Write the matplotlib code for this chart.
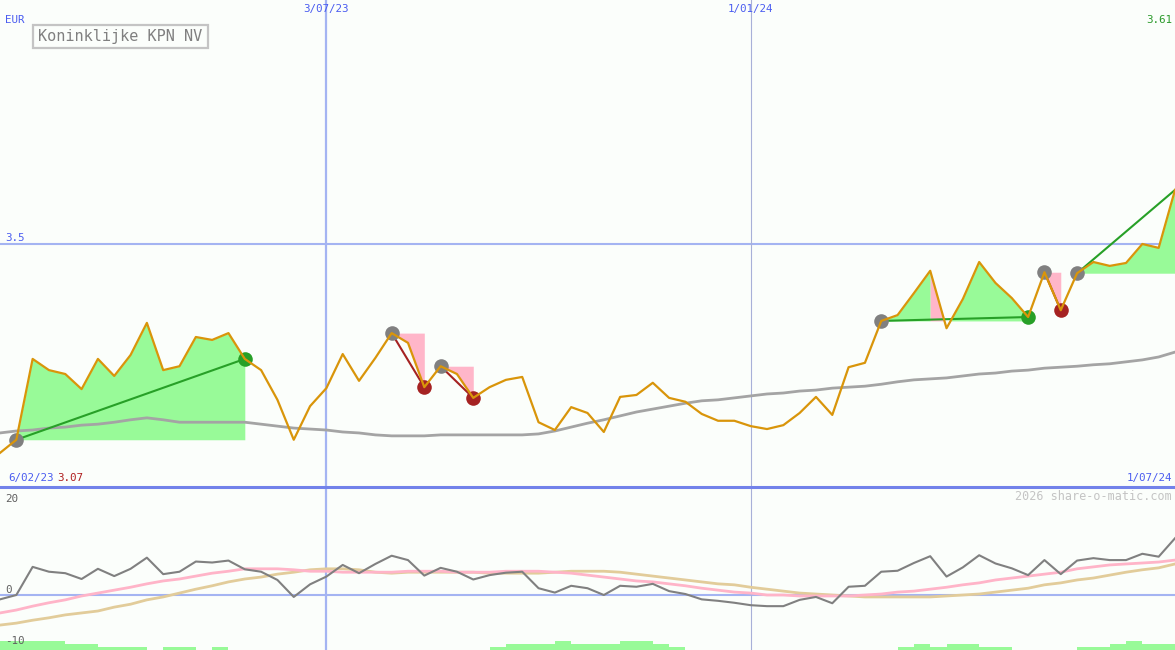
import matplotlib
matplotlib.use("Agg")
import matplotlib.pyplot as plt
from matplotlib.patches import Rectangle
from matplotlib.lines import Line2D
import numpy as np

# ---------------- data ----------------
title = "Koninklijke KPN NV"
currency = "EUR"
first_date, last_date = "6/02/23", "1/07/24"
first_price_lbl, last_price_lbl = "3.07", "3.61"
vline_idx = [20, 46]
vline_lbl = ["3/07/23", "1/01/24"]
price_grid = 3.5

price = [3.070, 3.097, 3.263, 3.240, 3.232, 3.201, 3.263, 3.228, 3.271, 3.337,
         3.240, 3.248, 3.308, 3.302, 3.316, 3.263, 3.240, 3.179, 3.097, 3.166,
         3.203, 3.273, 3.218, 3.265, 3.316, 3.296, 3.205, 3.248, 3.232, 3.183,
         3.205, 3.220, 3.226, 3.133, 3.117, 3.164, 3.152, 3.113, 3.185, 3.189,
         3.214, 3.183, 3.175, 3.150, 3.136, 3.136, 3.125, 3.119, 3.127, 3.152,
         3.185, 3.148, 3.246, 3.255, 3.341, 3.353, 3.398, 3.444, 3.326, 3.386,
         3.462, 3.419, 3.388, 3.349, 3.441, 3.363, 3.439, 3.462, 3.454, 3.460,
         3.499, 3.491, 3.610]

ma_long = [3.111, 3.115, 3.117, 3.121, 3.123, 3.127, 3.129, 3.133, 3.138, 3.142,
           3.138, 3.133, 3.133, 3.133, 3.133, 3.133, 3.129, 3.125, 3.121, 3.119,
           3.117, 3.113, 3.111, 3.107, 3.105, 3.105, 3.105, 3.107, 3.107, 3.107,
           3.107, 3.107, 3.107, 3.109, 3.115, 3.123, 3.131, 3.138, 3.146, 3.154,
           3.160, 3.166, 3.172, 3.177, 3.179, 3.183, 3.187, 3.191, 3.193, 3.197,
           3.199, 3.203, 3.205, 3.207, 3.211, 3.216, 3.220, 3.222, 3.224, 3.228,
           3.232, 3.234, 3.238, 3.240, 3.244, 3.246, 3.248, 3.251, 3.253, 3.257,
           3.261, 3.267, 3.277]

# trend segments: start index, end index, direction
seg_start = [1, 24, 27, 54, 64, 66]
seg_end = [15, 26, 29, 63, 65, 72]
seg_dir = ["up", "down", "down", "up", "down", "up"]

osc = [-0.9, 0.0, 5.8, 4.8, 4.5, 3.3, 5.4, 3.9, 5.4, 7.7,
       4.3, 4.8, 6.9, 6.7, 7.1, 5.3, 4.8, 3.1, -0.4, 2.2,
       3.8, 6.2, 4.5, 6.4, 8.1, 7.2, 4.0, 5.6, 4.8, 3.2,
       4.1, 4.6, 4.8, 1.4, 0.5, 1.9, 1.4, 0.0, 1.9, 1.7,
       2.3, 0.8, 0.2, -0.9, -1.2, -1.6, -2.1, -2.3, -2.3, -1.0,
       -0.4, -1.7, 1.7, 1.9, 4.8, 5.0, 6.6, 8.0, 3.8, 5.7,
       8.2, 6.5, 5.5, 4.1, 7.2, 4.3, 7.1, 7.6, 7.2, 7.2,
       8.5, 7.9, 11.7]

osc_pink = [-3.7, -3.1, -2.3, -1.6, -1.0, -0.2, 0.4, 1.0, 1.6, 2.3,
            2.9, 3.3, 3.9, 4.5, 4.9, 5.4, 5.4, 5.4, 5.2, 4.9,
            4.9, 4.7, 4.7, 4.7, 4.7, 4.9, 4.9, 4.9, 4.7, 4.7,
            4.7, 4.9, 4.9, 4.9, 4.7, 4.5, 4.1, 3.7, 3.3, 2.9,
            2.7, 2.3, 1.9, 1.4, 1.0, 0.6, 0.4, 0.0, 0.0, -0.2,
            -0.2, -0.2, -0.2, 0.0, 0.2, 0.6, 0.8, 1.2, 1.6, 2.1,
            2.5, 3.1, 3.5, 3.9, 4.3, 4.7, 5.4, 5.8, 6.2, 6.4,
            6.6, 6.8, 7.2]

osc_tan = [-6.2, -5.8, -5.2, -4.7, -4.1, -3.7, -3.3, -2.5, -1.9, -1.0,
           -0.4, 0.4, 1.2, 1.9, 2.7, 3.3, 3.7, 4.3, 4.7, 5.2,
           5.4, 5.4, 5.2, 4.7, 4.5, 4.7, 4.7, 4.7, 4.7, 4.7,
           4.5, 4.5, 4.5, 4.5, 4.7, 4.9, 4.9, 4.9, 4.7, 4.3,
           3.9, 3.5, 3.1, 2.7, 2.3, 2.1, 1.6, 1.2, 0.8, 0.4,
           0.2, 0.0, -0.2, -0.4, -0.4, -0.4, -0.4, -0.4, -0.2, 0.0,
           0.2, 0.6, 1.0, 1.4, 2.1, 2.5, 3.1, 3.5, 4.1, 4.7,
           5.2, 5.6, 6.4]

bars = [3, 3, 3, 3, 2, 2, 1, 1, 1, 0, 1, 1, 0, 1,
        0, 0, 0, 0, 0, 0, 0, 0, 0, 0, 0, 0, 0, 0, 0, 0,
        1, 2, 2, 2, 3, 2, 2, 2, 3, 3, 2, 1,
        0, 0, 0, 0, 0, 0, 0, 0, 0, 0, 0, 0, 0,
        1, 2, 1, 2, 2, 1, 1, 0, 0, 0, 0, 1, 1, 2, 3, 2, 2, 0]
osc_ticks = [20, 0, -10]

# ---------------- style ----------------
W, H = 1175, 650
BG = "#fbfefb"
BLUE_TXT = "#4a5cf0"
GRID = "#a4b4f2"
ORANGE = "#d9950a"
MA_GRAY = "#a4a4a4"
GREEN_FILL = "#98fa98"
PINK_FILL = "#ffb6c9"
DGREEN = "#27a027"
DRED = "#a52222"
MONO = "DejaVu Sans Mono"
SMALL = 7.8

fig = plt.figure(figsize=(W / 100, H / 100), dpi=100, facecolor=BG)
split = 487
ax = fig.add_axes([0, (H - split) / H, 1, split / H])
axb = fig.add_axes([0, 0, 1, (H - split) / H])
for a in (ax, axb):
    a.set_facecolor(BG)
    a.set_xlim(0, len(price) - 1)
    a.set_xticks([])
    a.set_yticks([])
    for s in a.spines.values():
        s.set_visible(False)

x = np.arange(len(price))
p = np.array(price)
ax.set_ylim(3.0, 4.0)

# grid
ax.axhline(price_grid, color=GRID, lw=1.5, zorder=1)
ax.axvline(vline_idx[0], color=GRID, lw=1.6, zorder=1)
ax.axvline(vline_idx[1], color="#a8b0d8", lw=0.8, zorder=1)

# fills per segment
for s, e, d in zip(seg_start, seg_end, seg_dir):
    base = p[s]
    xs = x[s:e + 1]
    ys = p[s:e + 1]
    if d == "up":
        if s == 54:
            pk = 57
            ax.fill_between(x[s:pk + 1], p[s:pk + 1], base, color=GREEN_FILL, lw=0, zorder=2)
            ax.fill_between(x[pk:pk + 2], p[pk:pk + 2], base, where=p[pk:pk + 2] >= base,
                            interpolate=True, color=PINK_FILL, lw=0, zorder=2)
            ax.fill_between(x[pk + 1:e + 1], p[pk + 1:e + 1], base, where=p[pk + 1:e + 1] >= base,
                            interpolate=True, color=GREEN_FILL, lw=0, zorder=2)
        else:
            ax.fill_between(xs, ys, base, where=ys >= base, interpolate=True,
                            color=GREEN_FILL, lw=0, zorder=2)
    else:
        ax.fill_between(xs, ys, base, where=ys <= base, interpolate=True,
                        color=PINK_FILL, lw=0, zorder=2)

ax.plot(x, ma_long, color=MA_GRAY, lw=2.0, zorder=3)

for s, e, d in zip(seg_start, seg_end, seg_dir):
    c = DGREEN if d == "up" else DRED
    ax.plot([x[s], x[e]], [p[s], p[e]], color=c, lw=1.5, zorder=4)
    ax.plot(x[s], p[s], "o", color="#808080", ms=10.5, mew=0, zorder=4)
    if e != len(price) - 1:
        ax.plot(x[e], p[e], "o", color=c, ms=10.5, mew=0, zorder=4)

ax.plot(x, p, color=ORANGE, lw=1.6, zorder=5)

# bottom panel
axb.set_ylim(-11.34, 22.27)
axb.axhline(0, color=GRID, lw=1.5, zorder=1)
axb.axvline(vline_idx[0], color=GRID, lw=1.6, zorder=1)
axb.axvline(vline_idx[1], color="#a8b0d8", lw=0.8, zorder=1)
axh = axb.twinx()
axh.set_ylim(0, (H - split) / 3)
axh.set_axis_off()
axh.bar(x, bars, width=1.0, align="edge", color=GREEN_FILL, lw=0, zorder=1)
axb.set_zorder(axh.get_zorder() + 1)
axb.patch.set_visible(False)
axh.patch.set_visible(True)
axh.patch.set_facecolor(BG)
axb.plot(x, osc_tan, color="#e2cc9a", lw=2.0, zorder=2)
axb.plot(x, osc_pink, color="#ffb4c8", lw=2.0, zorder=3)
axb.plot(x, osc, color="#808080", lw=1.5, zorder=4)

# separator
fig.add_artist(Line2D([0, 1], [(H - split) / H] * 2, color="#7282ea", lw=2.2))


def ftext(px, py, s, **kw):
    fig.text(px / W, 1 - py / H, s, family=MONO, **kw)


ftext(5, 20, currency, fontsize=SMALL, color=BLUE_TXT, va="center")
ftext(1172, 20, last_price_lbl, fontsize=SMALL, color="#2a9a2a", va="center", ha="right")
for i, lbl in zip(vline_idx, vline_lbl):
    ftext(i * W / (len(price) - 1), 9, lbl, fontsize=SMALL, color=BLUE_TXT, va="center", ha="center")
ftext(5, 238, "3.5", fontsize=SMALL, color=BLUE_TXT, va="center")
ftext(8, 478, first_date, fontsize=SMALL, color=BLUE_TXT, va="center")
ftext(57, 478, first_price_lbl, fontsize=SMALL, color="#b02020", va="center")
ftext(1172, 478, last_date, fontsize=SMALL, color=BLUE_TXT, va="center", ha="right")
ftext(1172, 496, "2026 share-o-matic.com", fontsize=8.5, color="#c4c4c4", va="center", ha="right")
for t in osc_ticks:
    py = 595 - t * 4.85
    ftext(5, py - 5 if t == 0 else (py + 1 if t == 20 else py - 2), str(t),
          fontsize=SMALL, color="#606060", va="center")

fig.add_artist(Rectangle((33 / W, 1 - 48 / H), 175 / W, 23 / H, transform=fig.transFigure,
                         facecolor=BG, edgecolor="#c4c4c4", lw=1.6, zorder=10))
ftext(38, 37, title, fontsize=11, color="#808080", va="center", zorder=11)

fig.savefig("out.png", dpi=100, facecolor=BG)
